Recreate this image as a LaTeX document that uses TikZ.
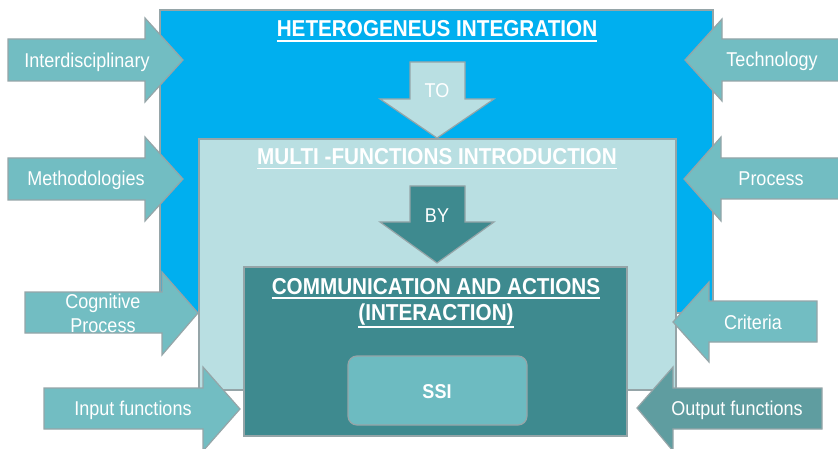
\documentclass[tikz,border=0pt]{standalone}
\usepackage{fontspec}
\setmainfont{Liberation Sans}
\newfontfamily\nsans[FakeStretch=0.9]{Liberation Sans}
\definecolor{hblue}{HTML}{00AFEF}
\definecolor{hlight}{HTML}{B9DFE2}
\definecolor{hdark}{HTML}{3E8A8F}
\definecolor{harrow}{HTML}{72BDC2}
\definecolor{hout}{HTML}{5F9DA0}
\definecolor{hssi}{HTML}{6DBBC1}
\definecolor{hborder}{HTML}{95A5A8}
\tikzset{
  boxframe/.style={draw=hborder, line width=1.2pt},
  blockarrow/.style={draw=hborder, line width=1.2pt, fill=harrow, line join=miter},
  lbl/.style={text=white, font=\nsans\fontsize{20}{23}\selectfont, inner sep=0pt, anchor=base, align=center},
  head/.style={text=white, font=\nsans\bfseries\fontsize{23}{26}\selectfont, inner sep=0pt, anchor=base},
  ulline/.style={white, line width=1.5pt}
}
\begin{document}
\begin{tikzpicture}[x=1pt, y=-1pt]
\useasboundingbox (0,0) rectangle (838,449);
% boxes
\path[boxframe, fill=hblue] (160,10) rectangle (713,313);
\path[boxframe, fill=hlight] (199,139) rectangle (676,390);
\path[boxframe, fill=hdark] (244,267) rectangle (627,436);
\path[boxframe, fill=hssi, rounded corners=9pt] (348,356) rectangle (527,425);
% down arrows
\path[blockarrow, fill=hlight] (410,62) -- (465,62) -- (465,99) -- (494,99) -- (437,138) -- (380,99) -- (410,99) -- cycle;
\path[blockarrow, fill=hdark] (410,186) -- (465,186) -- (465,222) -- (494,222) -- (437,263) -- (380,222) -- (410,222) -- cycle;
% right-pointing side arrows
\path[blockarrow] (8,39) -- (145,39) -- (145,18) -- (183,60) -- (145,102) -- (145,81) -- (8,81) -- cycle;
\path[blockarrow] (8,158) -- (145,158) -- (145,137) -- (183,179) -- (145,221) -- (145,200) -- (8,200) -- cycle;
\path[blockarrow] (25,292) -- (162,292) -- (162,272) -- (198,313) -- (162,355) -- (162,333) -- (25,333) -- cycle;
\path[blockarrow] (44,388) -- (203,388) -- (203,367) -- (240,409) -- (203,451) -- (203,429) -- (44,429) -- cycle;
% left-pointing side arrows
\path[blockarrow] (845,39) -- (722,39) -- (722,19) -- (685,60) -- (722,101) -- (722,81) -- (845,81) -- cycle;
\path[blockarrow] (845,158) -- (721,158) -- (721,137) -- (684,179) -- (721,221) -- (721,199) -- (845,199) -- cycle;
\path[blockarrow] (817,301) -- (709,301) -- (709,282) -- (673,322) -- (709,362) -- (709,342) -- (817,342) -- cycle;
\path[blockarrow, fill=hout] (822,388) -- (673,388) -- (673,367) -- (637,408) -- (673,451) -- (673,429) -- (822,429) -- cycle;
% headings
\node[head] (h1) at (437,37) {HETEROGENEUS INTEGRATION};
\draw[ulline] ([yshift=-4pt]h1.base west) -- ([yshift=-4pt]h1.base east);
\node[head] (h2) at (437,165) {MULTI -FUNCTIONS INTRODUCTION};
\draw[ulline] ([yshift=-3.5pt]h2.base west) -- ([yshift=-3.5pt]h2.base east);
\node[head] (h3a) at (436,294) {COMMUNICATION AND ACTIONS};
\draw[ulline] ([yshift=-4pt]h3a.base west) -- ([yshift=-4pt]h3a.base east);
\node[head] (h3b) at (436,320) {(INTERACTION)};
\draw[ulline] ([yshift=-7pt]h3b.base west) -- ([yshift=-7pt]h3b.base east);
\node[head, font=\nsans\bfseries\fontsize{20}{23}\selectfont] (ssi) at (437,398) {SSI};
% arrow labels
\node[lbl] (to) at (437,98) {TO};
\node[lbl] (by) at (437,223) {BY};
\node[lbl] (interd) at (87,68) {Interdisciplinary};
\node[lbl] (meth) at (86,186) {Methodologies};
\node[lbl] (cog1) at (103,308) {Cognitive};
\node[lbl] (cog2) at (103,332) {Process};
\node[lbl] (inp) at (133,415) {Input functions};
\node[lbl] (tech) at (772,67) {Technology};
\node[lbl] (proc) at (771,186) {Process};
\node[lbl] (crit) at (753,329) {Criteria};
\node[lbl] (outp) at (737,415) {Output functions};
\end{tikzpicture}
\end{document}
